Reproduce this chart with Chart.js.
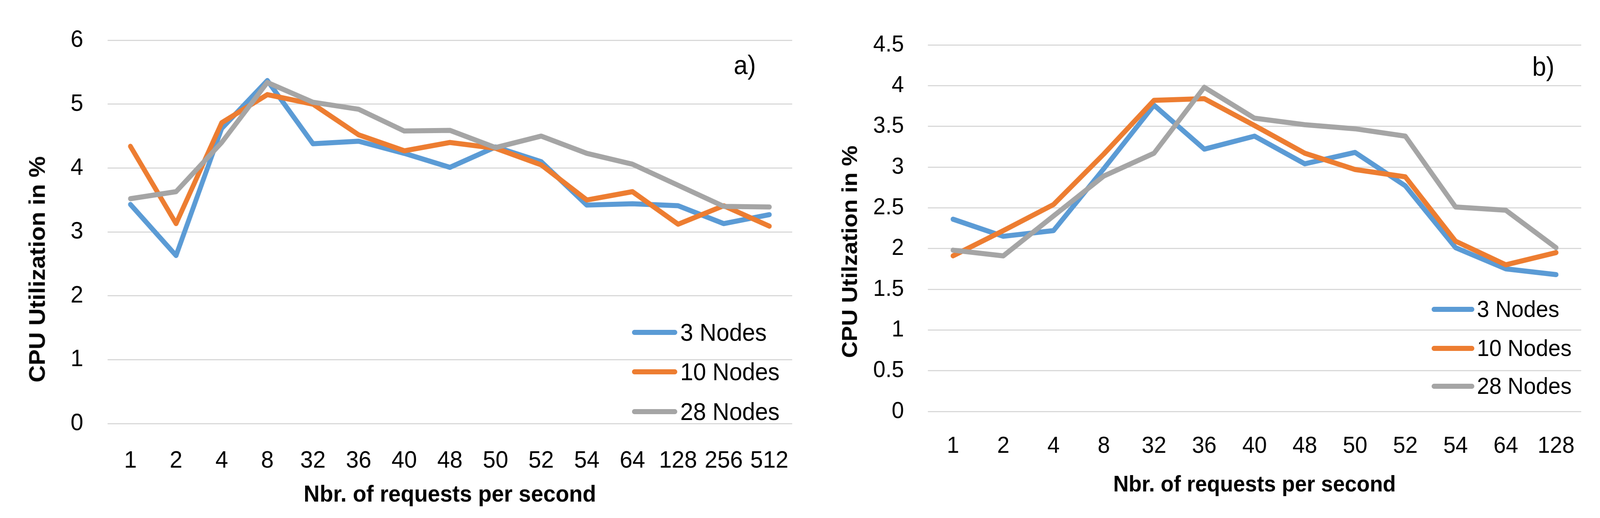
<!DOCTYPE html>
<html>
<head>
<meta charset="utf-8">
<script src="https://cdn.jsdelivr.net/npm/chart.js@4.4.0/dist/chart.umd.min.js"></script>
<style>
  html, body { margin: 0; padding: 0; background: #fff; overflow: hidden; }
  body { font-family: "Liberation Sans", Arial, sans-serif; color: #000; }
  #page { position: absolute; left: 0; top: 0; width: 4342px; height: 1327px; transform-origin: 0 0; }
  canvas { position: absolute; top: 0; }
  .ytitle { position: absolute; white-space: nowrap; font-weight: bold; line-height: 1;
            transform: translate(-50%, -50%) rotate(-90deg); }
  .panel { position: absolute; line-height: 1; }
  .legend-row { position: absolute; display: flex; align-items: center; line-height: 1; white-space: nowrap; }
  .legend-row i { display: inline-block; border-radius: 7px; }
</style>
</head>
<body>
<div id="page">
  <canvas id="chartA" width="2200" height="1327" style="left:0"></canvas>
  <canvas id="chartB" width="2142" height="1327" style="left:2200px"></canvas>

  <div class="ytitle" style="left:101px; top:690px; font-size:61px;">CPU Utilization in %</div>
  <div class="ytitle" style="left:2306px; top:645px; font-size:59px;">CPU Utilzation in %</div>
  <div class="panel" style="left:1991px; top:132px; font-size:68px;">a)</div>
  <div class="panel" style="left:4158px; top:136px; font-size:68px;">b)</div>
  <div id="legendA"></div>
  <div id="legendB"></div>
</div>

<script>
// categories (requests per second)
const labelsA = ['1', '2', '4', '8', '32', '36', '40', '48', '50', '52', '54', '64', '128', '256', '512'];
const labelsB = ['1', '2', '4', '8', '32', '36', '40', '48', '50', '52', '54', '64', '128'];

// panel a) CPU utilization in %
const nodes3A  = [3.43, 2.63, 4.62, 5.37, 4.38, 4.42, 4.23, 4.01, 4.33, 4.10, 3.42, 3.44, 3.41, 3.13, 3.27];
const nodes10A = [4.34, 3.13, 4.71, 5.15, 5.00, 4.52, 4.27, 4.40, 4.31, 4.05, 3.50, 3.63, 3.12, 3.41, 3.09];
const nodes28A = [3.52, 3.63, 4.40, 5.34, 5.03, 4.92, 4.58, 4.59, 4.32, 4.50, 4.23, 4.06, 3.73, 3.40, 3.39];

// panel b) CPU utilization in %
const nodes3B  = [2.36, 2.15, 2.22, 2.98, 3.76, 3.22, 3.38, 3.04, 3.18, 2.77, 2.01, 1.75, 1.68];
const nodes10B = [1.91, 2.22, 2.54, 3.16, 3.82, 3.84, 3.51, 3.17, 2.97, 2.88, 2.09, 1.80, 1.95];
const nodes28B = [1.98, 1.91, 2.40, 2.89, 3.17, 3.98, 3.60, 3.52, 3.47, 3.38, 2.51, 2.47, 2.01];

const seriesNames = ['3 Nodes', '10 Nodes', '28 Nodes'];
const seriesColors = ['#5B9BD5', '#ED7D31', '#A5A5A5'];

// the page is laid out at 4342x1327 and squeezed into whatever the window really is
const page = document.getElementById('page');
const sx = window.innerWidth / 4342;
const sy = window.innerHeight / 1327;
page.style.transform = `scale(${sx}, ${sy})`;

const FONT = '"Liberation Sans", Arial, sans-serif';
Chart.defaults.font.family = FONT;
Chart.defaults.color = '#000';

function makeChart(canvasId, labels, values, yMax, yStep, L) {
    const ctx = document.getElementById(canvasId).getContext('2d');
    return new Chart(ctx, {
        type: 'line',
        data: {
            labels: labels,
            datasets: values.map((v, i) => ({
                label: seriesNames[i],
                data: v,
                borderColor: seriesColors[i],
                backgroundColor: seriesColors[i],
                borderWidth: 13,
                borderJoinStyle: 'round',
                borderCapStyle: 'round',
                pointRadius: 0,
                tension: 0,
                order: values.length - i   // last series on top, like Excel
            }))
        },
        options: {
            responsive: false,
            devicePixelRatio: 1,
            animation: false,
            layout: { padding: { top: L.top, right: L.right, left: 0, bottom: 0 } },
            plugins: { legend: { display: false }, tooltip: { enabled: false } },
            scales: {
                x: {
                    offset: true,
                    grid: { display: false, drawTicks: false },
                    border: { display: false },
                    ticks: { autoSkip: false, maxRotation: 0, padding: L.xTickPad, font: { size: L.tickSize } },
                    title: {
                        display: true,
                        text: 'Nbr. of requests per second',
                        font: { size: L.titleSize, weight: 'bold' },
                        padding: { top: 0, bottom: L.xTitlePad }
                    },
                    afterFit: s => { s.height = L.xAxisHeight; }
                },
                y: {
                    min: 0,
                    max: yMax,
                    grid: { color: '#D9D9D9', lineWidth: 3, drawTicks: false },
                    border: { display: false },
                    ticks: { stepSize: yStep, padding: L.yTickPad, font: { size: L.tickSize },
                             callback: v => String(v) },
                    afterFit: s => { s.width = L.yAxisWidth; }
                }
            }
        }
    });
}

// html legend built from the chart datasets
function buildLegend(chart, el, L) {
    chart.data.datasets.forEach((ds, i) => {
        const row = document.createElement('div');
        row.className = 'legend-row';
        row.style.left = L.x + 'px';
        row.style.top = (L.y[i] - L.size / 2) + 'px';
        row.style.fontSize = L.size + 'px';
        const swatch = document.createElement('i');
        swatch.style.width = L.lineW + 'px';
        swatch.style.height = '13px';
        swatch.style.background = ds.borderColor;
        swatch.style.marginRight = L.gap + 'px';
        row.appendChild(swatch);
        row.appendChild(document.createTextNode(ds.label));
        el.appendChild(row);
    });
}

const chartA = makeChart('chartA', labelsA, [nodes3A, nodes10A, nodes28A], 6, 1, {
    top: 96, right: 44, yAxisWidth: 292, xAxisHeight: 242,
    tickSize: 62, titleSize: 60, xTickPad: 59, xTitlePad: 23, yTickPad: 66
});
const chartB = makeChart('chartB', labelsB, [nodes3B, nodes10B, nodes28B], 4.5, 0.5, {
    top: 115, right: 51, yAxisWidth: 318, xAxisHeight: 273,
    tickSize: 60, titleSize: 58, xTickPad: 53, xTitlePad: 49, yTickPad: 65
});

buildLegend(chartA, document.getElementById('legendA'),
    { x: 1715, y: [851, 952, 1054], size: 63, lineW: 123, gap: 8 });
buildLegend(chartB, document.getElementById('legendB'),
    { x: 3885, y: [792, 892, 989], size: 60, lineW: 116, gap: 7 });
</script>
</body>
</html>
